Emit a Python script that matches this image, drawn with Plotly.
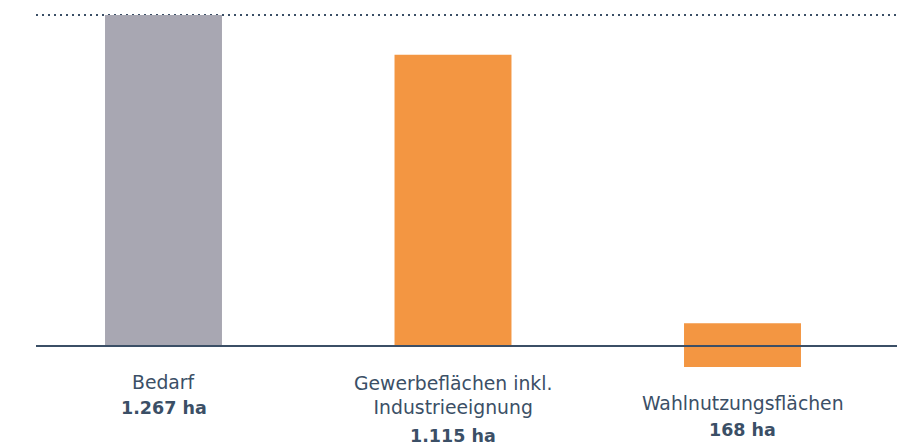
import plotly.graph_objects as go

categories = ["Bedarf", "Gewerbeflächen inkl.<br>Industrieeignung", "Wahlnutzungsflächen"]
values_ha = [1267, 1115, 168]
bar_colors = ["#a8a7b2", "#f39642", "#f39642"]

W, H = 897, 442
TEXT = "#3b4f66"
LINE = "#3b4f66"
FONT = "DejaVu Sans"

def de_fmt(v):
    return f"{v:,}".replace(",", ".") + " ha"

# last bar straddles the baseline in the original
bases = [0, 0, -values_ha[2] * 0.48]

x_idx = list(range(len(categories)))

fig = go.Figure()
fig.add_trace(go.Bar(
    x=x_idx, y=values_ha, base=bases,
    marker=dict(color=bar_colors, line=dict(width=0)),
    width=0.404, hoverinfo="skip",
))

# pixel mapping
cx0, step = 163.5, 289.5
xr = [-cx0 / step, (W - cx0) / step]
base_px, top_px = 346, 15
ppu = (base_px - top_px) / values_ha[0]
yr = [-(H - base_px) / ppu, values_ha[0] + top_px / ppu]

x_line_start = (36 - cx0) / step

fig.add_shape(type="line", xref="x", yref="y", x0=x_line_start, x1=xr[1],
              y0=max(values_ha), y1=max(values_ha),
              line=dict(color=LINE, width=2, dash="2px,4px"), layer="below")
fig.add_shape(type="line", xref="x", yref="y", x0=x_line_start, x1=xr[1],
              y0=0, y1=0, line=dict(color=LINE, width=2), layer="above")

label_px = [(382, 408), (395.5, 436), (403, 430)]
for i, (cat, v) in enumerate(zip(categories, values_ha)):
    ly, vy = label_px[i]
    fig.add_annotation(x=i, xref="x", y=1 - ly / H, yref="paper", text=cat,
                       showarrow=False, font=dict(size=18.8, color=TEXT, family=FONT),
                       yanchor="middle", align="center")
    fig.add_annotation(x=i, xref="x", y=1 - vy / H, yref="paper", text=f"<b>{de_fmt(v)}</b>",
                       showarrow=False, font=dict(size=17.5, color=TEXT, family=FONT),
                       yanchor="middle", align="center")

fig.update_layout(
    width=W, height=H, margin=dict(l=0, r=0, t=0, b=0),
    paper_bgcolor="white", plot_bgcolor="white", showlegend=False,
    xaxis=dict(range=xr, visible=False, fixedrange=True),
    yaxis=dict(range=yr, visible=False, fixedrange=True),
)
fig.write_html("out.html", config={"displayModeBar": False},
               post_script="document.body.style.margin='0';document.body.style.padding='0';document.body.style.overflow='hidden';")
